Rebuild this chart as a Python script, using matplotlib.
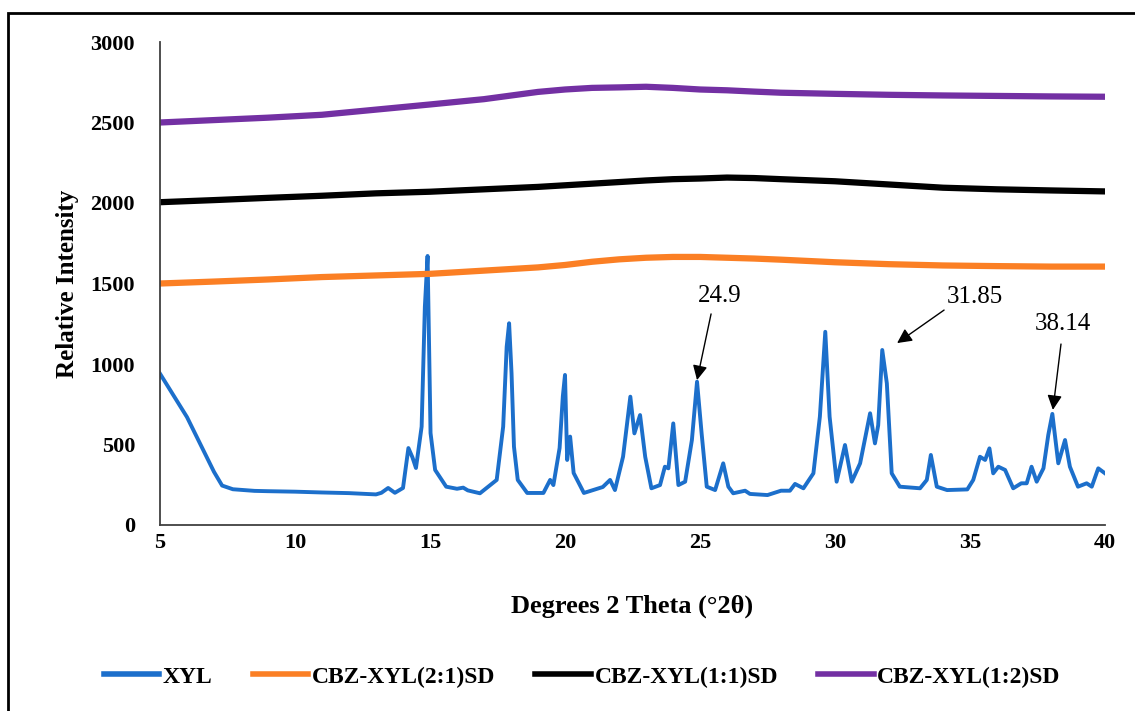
import matplotlib
matplotlib.use("Agg")
import matplotlib.pyplot as plt
from matplotlib.patches import Rectangle

plt.rcParams['font.family'] = ['Liberation Serif', 'DejaVu Serif']

# XYL crystalline pattern
xyl_x = [5.0, 6.0, 7.0, 7.3, 7.7, 8.5, 9.0, 10.0, 11.0, 12.0, 13.0, 13.2, 13.45, 13.7,
         14.0, 14.2, 14.35, 14.48, 14.69, 14.81, 14.91, 15.02, 15.19, 15.6, 16.0, 16.23,
         16.4, 16.85, 17.47, 17.71, 17.84, 17.93, 18.02, 18.11, 18.25, 18.6, 19.2, 19.45,
         19.57, 19.8, 19.92, 20.0, 20.08, 20.19, 20.32, 20.7, 21.4, 21.67, 21.85, 22.15,
         22.42, 22.57, 22.78, 22.97, 23.2, 23.52, 23.7, 23.83, 24.01, 24.2, 24.45, 24.7,
         24.89, 25.06, 25.25, 25.56, 25.86, 26.05, 26.23, 26.67, 26.85, 27.5, 28.0, 28.33,
         28.52, 28.83, 29.2, 29.44, 29.64, 29.8, 30.06, 30.37, 30.62, 30.93, 31.3, 31.48,
         31.6, 31.75, 31.92, 32.1, 32.4, 33.15, 33.4, 33.55, 33.77, 34.15, 34.9, 35.12,
         35.37, 35.56, 35.72, 35.86, 36.05, 36.3, 36.6, 36.9, 37.1, 37.28, 37.47, 37.72,
         37.9, 38.05, 38.27, 38.52, 38.7, 39.0, 39.32, 39.51, 39.75, 40.0]
xyl_y = [940, 670, 330, 245, 222, 212, 210, 207, 202, 198, 190, 200, 230, 200,
         230, 478, 420, 354, 611, 1356, 1671, 571, 342, 238, 225, 232,
         215, 197, 280, 611, 1107, 1253, 942, 486, 280, 199, 199, 280,
         248, 478, 800, 932, 404, 549, 323, 199, 236, 280, 217, 424,
         797, 569, 683, 424, 228, 248, 362, 352, 631, 248, 269, 528,
         890, 569, 238, 217, 383, 238, 197, 213, 193, 186, 213, 213,
         255, 228, 321, 673, 1200, 673, 269, 497, 269, 383, 694, 507,
         620, 1087, 880, 321, 238, 228, 280, 435, 238, 217, 221, 280,
         424, 404, 476, 321, 362, 342, 228, 259, 259, 362, 269, 352,
         560, 690, 383, 528, 362, 238, 259, 238, 352, 321]

# amorphous solid dispersions (broad halos)
sd_x = [5, 7, 9, 11, 13, 15, 17, 19, 20, 21, 22, 23, 24, 25, 26, 27, 28, 30,
        32, 34, 36, 38, 40]
sd21_y = [1500, 1512, 1525, 1540, 1550, 1560, 1580, 1600, 1615, 1635, 1650, 1660,
          1665, 1665, 1660, 1655, 1648, 1632, 1620, 1612, 1608, 1605, 1605]
sd11_y = [2005, 2018, 2032, 2045, 2060, 2070, 2085, 2100, 2110, 2120, 2130, 2140,
          2148, 2152, 2158, 2155, 2148, 2135, 2115, 2095, 2085, 2078, 2072]
sd12_y = [2500, 2515, 2530, 2548, 2580, 2612, 2645, 2690, 2705, 2715, 2718, 2722,
          2715, 2705, 2700, 2692, 2685, 2678, 2672, 2668, 2665, 2662, 2660]

labels = ['XYL', 'CBZ-XYL(2:1)SD', 'CBZ-XYL(1:1)SD', 'CBZ-XYL(1:2)SD']
colors = ['#1c6fcb', '#fb7f24', '#000000', '#7330a3']

fig = plt.figure(figsize=(11.35, 7.11), dpi=100)
ax = fig.add_axes([160/1135, 1 - 525/711, 945/1135, 483/711])

ax.plot(xyl_x, xyl_y, color=colors[0], lw=2.8, label=labels[0])
ax.plot(sd_x, sd21_y, color=colors[1], lw=4.5, label=labels[1])
ax.plot(sd_x, sd11_y, color=colors[2], lw=4.5, label=labels[2])
ax.plot(sd_x, sd12_y, color=colors[3], lw=4.5, label=labels[3])

ax.set_xlim(5, 40)
ax.set_ylim(0, 3000)
ax.set_xticks(range(5, 41, 5))
ax.set_yticks(range(0, 3001, 500))
ax.tick_params(axis='both', length=0, labelsize=16)
ax.tick_params(axis='y', pad=18)
ax.tick_params(axis='x', pad=6)
for lab in ax.get_xticklabels() + ax.get_yticklabels():
    lab.set_fontweight('bold')
for s in ['top', 'right']:
    ax.spines[s].set_visible(False)
for s in ['left', 'bottom']:
    ax.spines[s].set_color('#404040')
    ax.spines[s].set_linewidth(1.3)

ax.set_ylabel('Relative Intensity', fontsize=18, fontweight='bold', labelpad=8)
ax.set_xlabel('Degrees 2 Theta (°2θ)', fontsize=19, fontweight='bold', labelpad=30)

# peak annotations
peaks = [('24.9', (24.89, 900), (25.41, 1311), (25.74, 1422)),
         ('31.85', (32.30, 1130), (34.04, 1335), (35.19, 1416)),
         ('38.14', (38.07, 715), (38.37, 1124), (38.44, 1250))]
for txt, head, tail, tpos in peaks:
    ax.annotate('', xy=head, xytext=tail,
                arrowprops=dict(arrowstyle='-|>', color='black', lw=1.0,
                                mutation_scale=22, shrinkA=0, shrinkB=0))
    ax.text(tpos[0], tpos[1], txt, fontsize=18, ha='center', va='center')

leg = fig.legend(loc='center', bbox_to_anchor=(0.513, 1 - 677/711), ncol=4,
                 frameon=False, handlelength=2.35, handletextpad=0.15,
                 columnspacing=1.7, prop={'size': 17, 'weight': 'bold'})
for line in leg.get_lines():
    line.set_linewidth(4)

# outer frame
fig.patches.append(Rectangle((8/1135, -0.05), 1.2, 1.05 - 12.7/711,
                             transform=fig.transFigure, fill=False,
                             edgecolor='black', lw=2))

fig.savefig('out.png', dpi=100)
